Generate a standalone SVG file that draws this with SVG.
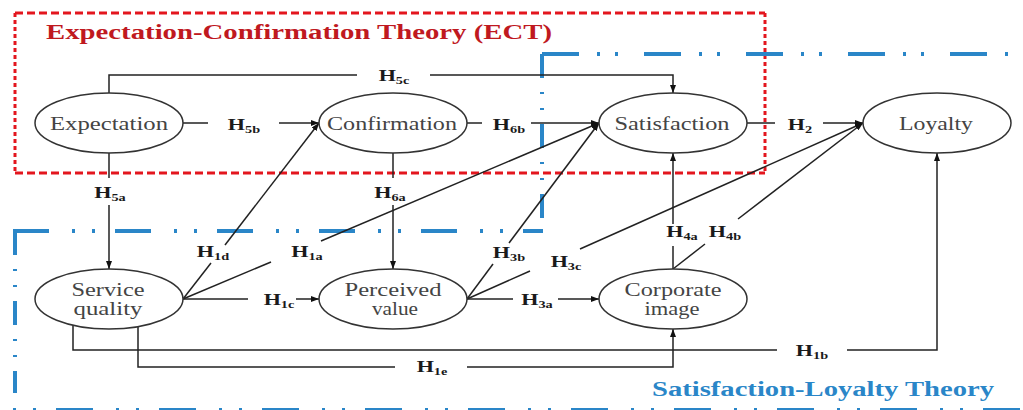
<svg xmlns="http://www.w3.org/2000/svg" width="1023" height="410" viewBox="0 0 1023 410">
<style>
.node ellipse{fill:#fff;stroke:#333;stroke-width:1.5}
.node text{font-family:"Liberation Serif","Times New Roman",serif;font-size:19px;fill:#444;text-anchor:middle}
.conn path{fill:none;stroke:#222;stroke-width:1.5}
.lbl{font-family:"Liberation Serif","Times New Roman",serif;font-size:17px;font-weight:bold;fill:#1a1a1a;text-anchor:middle}
.lbl tspan{font-size:11px}
.red{fill:none;stroke:#e3161e;stroke-width:3}
.blue{fill:none;stroke:#2a86c8;stroke-width:4}
.title{font-family:"Liberation Serif","Times New Roman",serif;font-size:20px;font-weight:bold}
</style>
<defs>
<marker id="arr" markerUnits="userSpaceOnUse" markerWidth="8" markerHeight="6" refX="8" refY="3" orient="auto">
<path d="M0,0 L8,3 L0,6 z" fill="#111"/>
</marker>
</defs>
<rect width="1023" height="410" fill="#fff"/>

<g id="frames">
<path class="red" d="M15,13 H765 M15,173 H765" stroke-dasharray="8 4"/>
<path class="red" d="M15,13 V173 M765,13 V173" stroke-dasharray="4 3"/>
<text class="title" x="299" y="39" fill="#c0191f" text-anchor="middle" textLength="506" lengthAdjust="spacingAndGlyphs">Expectation-Confirmation Theory (ECT)</text>
<path class="blue" d="M542,54 H1023" stroke-dasharray="37 18 3 15 3 26"/>
<path class="blue" d="M542,54 V232" stroke-dasharray="24 14 2 14 2 14"/>
<path class="blue" d="M13,231 H543" stroke-dasharray="36 23 3 17 3 20"/>
<path class="blue" d="M15,231 V393" stroke-dasharray="24 14 2 14 2 14"/>
<path class="blue" d="M-47,410 H1023" stroke-width="6" stroke-dasharray="37 23 3 17 3 20"/>
<text class="title" x="823" y="396" fill="#2a86c8" text-anchor="middle" textLength="342" lengthAdjust="spacingAndGlyphs">Satisfaction-Loyalty Theory</text>
</g>

<g id="connectors" class="conn">
<path d="M109,93 V75 H357"/><path d="M430,75 H673 V93" marker-end="url(#arr)"/>
<path d="M183,123 H208"/><path d="M279,123 H319" marker-end="url(#arr)"/>
<path d="M467,123 H482"/><path d="M531,123 H599" marker-end="url(#arr)"/>
<path d="M747,123 H775"/><path d="M823,123 H863" marker-end="url(#arr)"/>
<path d="M109,153 V178"/><path d="M109,205 V269" marker-end="url(#arr)"/>
<path d="M393,153 V178"/><path d="M393,205 V269" marker-end="url(#arr)"/>
<path d="M183,299 L211,263"/><path d="M225,245 L319,123" marker-end="url(#arr)"/>
<path d="M183,299 L271,262"/><path d="M321,241 L599,123" marker-end="url(#arr)"/>
<path d="M183,299 H248"/><path d="M296,299 H319" marker-end="url(#arr)"/>
<path d="M467,299 L493,264"/><path d="M509,243 L599,123" marker-end="url(#arr)"/>
<path d="M467,299 L530,271"/><path d="M580,249 L863,123" marker-end="url(#arr)"/>
<path d="M467,299 H513"/><path d="M558,299 H599" marker-end="url(#arr)"/>
<path d="M673,269 V246"/><path d="M673,224 V153" marker-end="url(#arr)"/>
<path d="M673,269 L705,244"/><path d="M738,219 L863,123" marker-end="url(#arr)"/>
<path d="M73,325 V350 H777"/><path d="M847,350 H937 V153" marker-end="url(#arr)"/>
<path d="M138,327 V367 H395"/><path d="M467,367 H673 V329" marker-end="url(#arr)"/>
</g>

<g id="labels">
<text class="lbl" transform="translate(394,81) scale(1.3,1)">H<tspan dy="3">5c</tspan></text>
<text class="lbl" transform="translate(244,130) scale(1.3,1)">H<tspan dy="3">5b</tspan></text>
<text class="lbl" transform="translate(509,130) scale(1.3,1)">H<tspan dy="3">6b</tspan></text>
<text class="lbl" transform="translate(800,130) scale(1.3,1)">H<tspan dy="3">2</tspan></text>
<text class="lbl" transform="translate(110,198) scale(1.3,1)">H<tspan dy="3">5a</tspan></text>
<text class="lbl" transform="translate(390,198) scale(1.3,1)">H<tspan dy="3">6a</tspan></text>
<text class="lbl" transform="translate(213,257) scale(1.3,1)">H<tspan dy="3">1d</tspan></text>
<text class="lbl" transform="translate(307,257) scale(1.3,1)">H<tspan dy="3">1a</tspan></text>
<text class="lbl" transform="translate(279,305) scale(1.3,1)">H<tspan dy="3">1c</tspan></text>
<text class="lbl" transform="translate(509,258) scale(1.3,1)">H<tspan dy="3">3b</tspan></text>
<text class="lbl" transform="translate(566,267) scale(1.3,1)">H<tspan dy="3">3c</tspan></text>
<text class="lbl" transform="translate(537,305) scale(1.3,1)">H<tspan dy="3">3a</tspan></text>
<text class="lbl" transform="translate(682,237) scale(1.3,1)">H<tspan dy="3">4a</tspan></text>
<text class="lbl" transform="translate(725,237) scale(1.3,1)">H<tspan dy="3">4b</tspan></text>
<text class="lbl" transform="translate(812,356) scale(1.3,1)">H<tspan dy="3">1b</tspan></text>
<text class="lbl" transform="translate(432,372) scale(1.3,1)">H<tspan dy="3">1e</tspan></text>
</g>

<g id="node-expectation" class="node"><ellipse cx="109" cy="123" rx="74" ry="30"/><text x="109" y="130" textLength="118" lengthAdjust="spacingAndGlyphs">Expectation</text></g>
<g id="node-confirmation" class="node"><ellipse cx="393" cy="123" rx="74" ry="30"/><text x="392" y="130" textLength="130" lengthAdjust="spacingAndGlyphs">Confirmation</text></g>
<g id="node-satisfaction" class="node"><ellipse cx="673" cy="123" rx="74" ry="30"/><text x="672" y="130" textLength="115" lengthAdjust="spacingAndGlyphs">Satisfaction</text></g>
<g id="node-loyalty" class="node"><ellipse cx="937" cy="123" rx="74" ry="30"/><text x="936" y="130" textLength="74" lengthAdjust="spacingAndGlyphs">Loyalty</text></g>
<g id="node-service-quality" class="node"><ellipse cx="109" cy="299" rx="74" ry="30"/><text x="108" y="296" textLength="73" lengthAdjust="spacingAndGlyphs">Service</text><text x="108" y="315" textLength="69" lengthAdjust="spacingAndGlyphs">quality</text></g>
<g id="node-perceived-value" class="node"><ellipse cx="393" cy="299" rx="74" ry="30"/><text x="393" y="296" textLength="97" lengthAdjust="spacingAndGlyphs">Perceived</text><text x="395" y="315" textLength="46" lengthAdjust="spacingAndGlyphs">value</text></g>
<g id="node-corporate-image" class="node"><ellipse cx="673" cy="299" rx="74" ry="30"/><text x="673" y="296" textLength="97" lengthAdjust="spacingAndGlyphs">Corporate</text><text x="672" y="315" textLength="55" lengthAdjust="spacingAndGlyphs">image</text></g>
</svg>
